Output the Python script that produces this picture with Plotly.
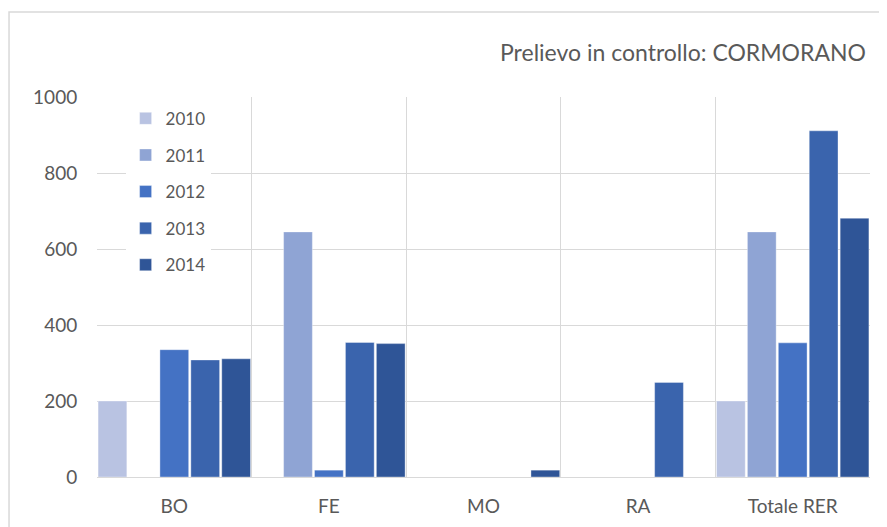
import plotly.graph_objects as go

categories = ["BO", "FE", "MO", "RA", "Totale RER"]
years = ["2010", "2011", "2012", "2013", "2014"]
v2010 = [200, 0, 0, 0, 200]
v2011 = [0, 645, 0, 0, 645]
v2012 = [335, 18, 0, 0, 353]
v2013 = [308, 354, 0, 249, 911]
v2014 = [311, 351, 18, 0, 681]
series = [v2010, v2011, v2012, v2013, v2014]
colors = ["#B9C3E2", "#8FA4D4", "#4472C4", "#3A64AD", "#2F5597"]
yticks = [0, 200, 400, 600, 800, 1000]

FONT = "Lato, Open Sans, sans-serif"
GREY = "#595959"
GRID = "#D9D9D9"

fig = go.Figure()
for i, (yr, vals) in enumerate(zip(years, series)):
    fig.add_trace(go.Bar(
        name=yr, x=categories, y=vals,
        marker=dict(color=colors[i], line=dict(color="rgba(255,255,255,0.6)", width=0.6)),
        legendgroup=yr,
    ))

fig.update_layout(
    width=879, height=519,
    margin=dict(l=89, r=17, t=89, b=50),
    paper_bgcolor="white", plot_bgcolor="white",
    barmode="group", bargap=0, bargroupgap=0.07,
    font=dict(family=FONT, size=17, color=GREY),
    showlegend=True,
    legend=dict(
        x=0.037, y=0.99, xanchor="left", yanchor="top",
        bgcolor="white", borderwidth=0,
        traceorder="grouped", tracegroupgap=11.5,
        font=dict(family=FONT, size=17, color=GREY),
        itemwidth=30,
    ),
    xaxis=dict(
        type="category", tickson="boundaries", automargin=False,
        showgrid=True, gridcolor=GRID, gridwidth=1,
        showline=True, linecolor=GRID, linewidth=1,
        ticks="", ticklabelstandoff=12,
        tickfont=dict(family=FONT, size=19, color=GREY),
        range=[-0.5, 4.5],
    ),
    yaxis=dict(
        range=[0, 1000], tickvals=yticks, automargin=False,
        showgrid=True, gridcolor=GRID, gridwidth=1,
        zeroline=False, showline=False,
        ticks="outside", ticklen=15, tickcolor="rgba(0,0,0,0)",
        tickfont=dict(family=FONT, size=19, color=GREY),
    ),
    annotations=[dict(
        text="Prelievo in controllo: CORMORANO",
        xref="paper", yref="paper", x=0.998, y=1.118,
        xanchor="right", yanchor="middle", showarrow=False,
        font=dict(family=FONT, size=23, color=GREY),
    )],
    shapes=[dict(
        type="rect", xref="paper", yref="paper",
        x0=-0.1138, x1=1.1, y0=-0.3, y1=1.2237,
        line=dict(color=GRID, width=1.5), fillcolor="rgba(0,0,0,0)", layer="below",
    )],
)

fig.write_html("out.html")
